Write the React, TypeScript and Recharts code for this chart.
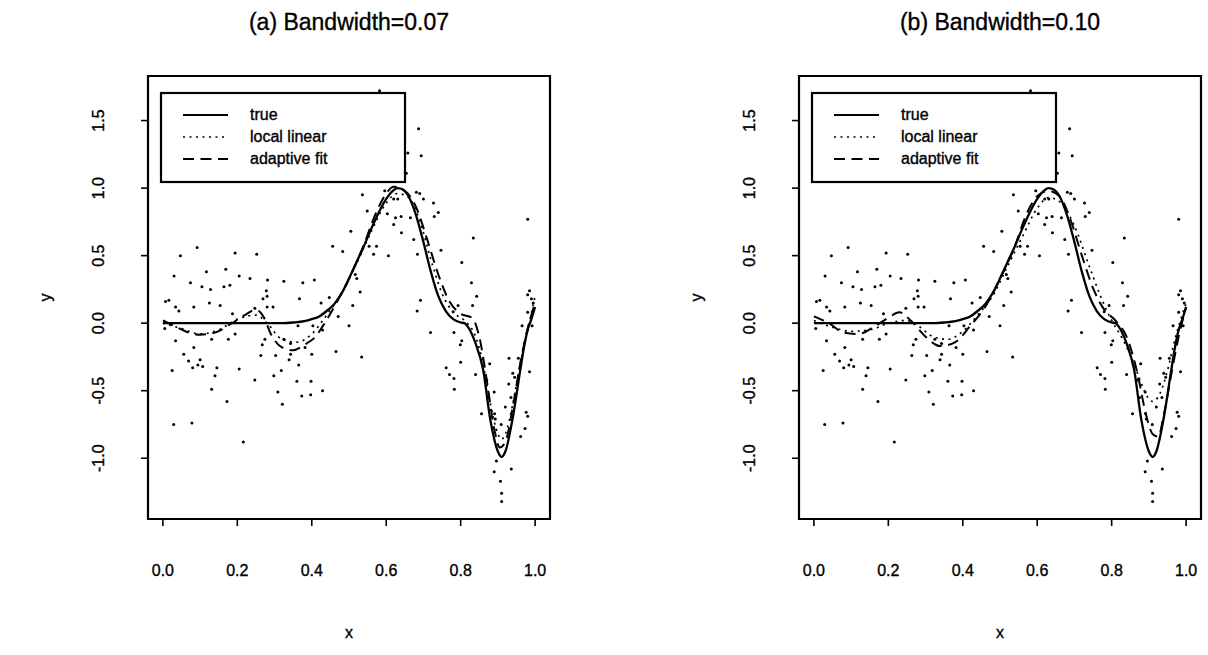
import React from 'react';
import { ComposedChart, Line, Scatter, XAxis, YAxis, ReferenceArea } from 'recharts';

// plot frame (both panels use the same data ranges)
const X_DOMAIN: [number, number] = [-0.04, 1.04];
const Y_DOMAIN: [number, number] = [-1.45, 1.83];
const xTicks = [0, 0.2, 0.4, 0.6, 0.8, 1.0];
const yTicks = [-1, -0.5, 0, 0.5, 1, 1.5];

// noisy observations (same sample in both panels)
const observations: [number, number][] = [
    [0.047, 0.5], [0.092, 0.56], [0.194, 0.52], [0.252, 0.51], [0.456, 0.57], [0.483, 0.53],
    [0.03, 0.35], [0.117, 0.38], [0.169, 0.4], [0.074, 0.3], [0.105, 0.27], [0.128, 0.25],
    [0.164, 0.27], [0.18, 0.28], [0.205, 0.35], [0.234, 0.33], [0.281, 0.32], [0.325, 0.31],
    [0.376, 0.3], [0.407, 0.32], [0.278, 0.24], [0.269, 0.18], [0.28, 0.2], [0.367, 0.18],
    [0.007, 0.16], [0.016, 0.17], [0.034, 0.12], [0.083, 0.12], [0.125, 0.15], [0.154, 0.13],
    [0.28, 0.12], [0.296, 0.12], [0.425, 0.15], [0.447, 0.19], [0.187, 0.07], [0.247, 0.11],
    [0.471, 0.05], [0.043, 0.09], [0.363, -0.02], [0.403, -0.02], [0.005, -0.04],
    [0.034, -0.13], [0.083, -0.18], [0.056, -0.23], [0.069, -0.28], [0.1, -0.27], [0.08, -0.33],
    [0.094, -0.31], [0.107, -0.32], [0.025, -0.35], [0.131, -0.12], [0.176, -0.12], [0.194, -0.08],
    [0.145, -0.33], [0.14, -0.39], [0.205, -0.34], [0.131, -0.49], [0.172, -0.58], [0.029, -0.75],
    [0.078, -0.74], [0.216, -0.88], [0.274, -0.12], [0.267, -0.16], [0.263, -0.24], [0.303, -0.24],
    [0.325, -0.12], [0.343, -0.15], [0.343, -0.23], [0.339, -0.27], [0.318, -0.35], [0.298, -0.39],
    [0.247, -0.42], [0.365, -0.31], [0.382, -0.18], [0.4, -0.23], [0.36, -0.43], [0.398, -0.43],
    [0.309, -0.51], [0.373, -0.54], [0.397, -0.53], [0.321, -0.6], [0.429, -0.5], [0.465, -0.21],
    [0.429, -0.05],
    [0.582, 1.72], [0.687, 1.44], [0.658, 1.26], [0.694, 1.24], [0.654, 1.11], [0.536, 0.95],
    [0.681, 0.97], [0.69, 0.96], [0.7, 0.92], [0.727, 0.89], [0.74, 0.82], [0.729, 0.79],
    [0.62, 0.92], [0.631, 0.92], [0.603, 0.81], [0.625, 0.78], [0.64, 0.79], [0.549, 0.83],
    [0.665, 0.78], [0.98, 0.77], [0.596, 0.98], [0.62, 0.73],
    [0.505, 0.68], [0.641, 0.67], [0.674, 0.62], [0.834, 0.63], [0.554, 0.57], [0.574, 0.57],
    [0.566, 0.51], [0.606, 0.5], [0.684, 0.51], [0.747, 0.54], [0.803, 0.45], [0.517, 0.36],
    [0.521, 0.33], [0.53, 0.23], [0.51, 0.13], [0.5, -0.02], [0.829, 0.3], [0.843, 0.2],
    [0.832, 0.13], [0.692, 0.17], [0.683, 0.09], [0.719, -0.07], [0.78, 0.085], [0.793, 0.13],
    [0.985, 0.24], [0.99, 0.18], [0.995, 0.15], [0.98, 0.21], [0.965, -0.02], [0.98, 0.08],
    [0.992, -0.02], [0.782, -0.07], [0.803, -0.13], [0.799, -0.16], [0.534, -0.25], [0.8, -0.29],
    [0.761, -0.33], [0.77, -0.38], [0.84, -0.38], [0.93, -0.26], [0.955, -0.26], [0.94, -0.37],
    [0.985, -0.36],
    [0.782, -0.41], [0.783, -0.49], [0.929, -0.45], [0.89, -0.51], [0.856, -0.67], [0.976, -0.66],
    [0.98, -0.69], [0.973, -0.78], [0.961, -0.84], [0.891, -0.67], [0.893, -0.71], [0.909, -0.75],
    [0.896, -1.02], [0.936, -1.08], [0.89, -1.1], [0.907, -1.17], [0.91, -1.26], [0.91, -1.32],
    [0.878, -0.3], [0.87, -0.42], [0.92, -0.62], [0.935, -0.55], [0.945, -0.4], [0.875, -0.55],
];

// true regression function
const trueCurve: [number, number][] = [
    [0, 0], [0.1, 0], [0.2, 0], [0.3, 0], [0.32, 0], [0.35, 0.005], [0.38, 0.015], [0.4, 0.03],
    [0.42, 0.05], [0.44, 0.09], [0.46, 0.14], [0.48, 0.22], [0.5, 0.33], [0.52, 0.45], [0.54, 0.57],
    [0.56, 0.7], [0.58, 0.82], [0.6, 0.92], [0.62, 0.985], [0.63, 1.0], [0.64, 0.995], [0.66, 0.94],
    [0.68, 0.8], [0.7, 0.6], [0.72, 0.38], [0.74, 0.2], [0.76, 0.09], [0.78, 0.03], [0.8, 0.005],
    [0.81, 0], [0.82, -0.03], [0.84, -0.15], [0.86, -0.34], [0.88, -0.72], [0.9, -0.95], [0.91, -0.99],
    [0.92, -0.95], [0.94, -0.7], [0.96, -0.35], [0.97, -0.18], [0.98, -0.05], [0.99, 0.03], [1.0, 0.12],
];

// (a) bandwidth 0.07
const localLinearA: [number, number][] = [
    [0, 0], [0.05, -0.04], [0.1, -0.08], [0.15, -0.05], [0.2, 0.03], [0.25, 0.06], [0.28, 0],
    [0.32, -0.12], [0.36, -0.14], [0.4, -0.08], [0.44, 0.06], [0.48, 0.22], [0.52, 0.44], [0.56, 0.68],
    [0.6, 0.89], [0.63, 0.96], [0.66, 0.93], [0.69, 0.76], [0.72, 0.47], [0.75, 0.22], [0.78, 0.08],
    [0.81, 0.02], [0.84, -0.1], [0.86, -0.3], [0.88, -0.6], [0.9, -0.82], [0.91, -0.86], [0.92, -0.82],
    [0.94, -0.6], [0.96, -0.3], [0.98, -0.05], [1.0, 0.2],
];
const adaptiveA: [number, number][] = [
    [0, 0.02], [0.03, -0.02], [0.06, -0.06], [0.1, -0.085], [0.14, -0.07], [0.18, -0.01], [0.22, 0.06],
    [0.25, 0.1], [0.27, 0.05], [0.29, -0.08], [0.32, -0.18], [0.35, -0.2], [0.38, -0.16], [0.41, -0.1],
    [0.43, -0.02], [0.46, 0.12], [0.5, 0.33], [0.54, 0.58], [0.57, 0.8], [0.6, 0.96], [0.62, 1.01],
    [0.65, 0.98], [0.68, 0.86], [0.71, 0.62], [0.74, 0.36], [0.77, 0.16], [0.8, 0.07], [0.83, 0.04],
    [0.85, -0.1], [0.87, -0.42], [0.89, -0.78], [0.905, -0.92], [0.92, -0.88], [0.94, -0.62],
    [0.96, -0.3], [0.98, -0.04], [1.0, 0.15],
];

// (b) bandwidth 0.10
const localLinearB: [number, number][] = [
    [0, 0.02], [0.05, -0.03], [0.1, -0.06], [0.15, -0.05], [0.2, 0], [0.25, 0.02], [0.28, -0.02],
    [0.32, -0.1], [0.36, -0.12], [0.4, -0.06], [0.44, 0.06], [0.48, 0.2], [0.52, 0.42], [0.56, 0.64],
    [0.6, 0.85], [0.63, 0.93], [0.66, 0.9], [0.7, 0.72], [0.74, 0.42], [0.77, 0.2], [0.8, 0.02],
    [0.83, -0.12], [0.86, -0.3], [0.88, -0.45], [0.9, -0.56], [0.91, -0.58], [0.93, -0.52],
    [0.95, -0.35], [0.97, -0.12], [1.0, 0.15],
];
const adaptiveB: [number, number][] = [
    [0, 0.05], [0.04, 0], [0.08, -0.07], [0.12, -0.08], [0.16, -0.03], [0.2, 0.04], [0.23, 0.08],
    [0.26, 0.02], [0.3, -0.1], [0.34, -0.17], [0.38, -0.14], [0.42, -0.02], [0.46, 0.12], [0.5, 0.33],
    [0.54, 0.57], [0.57, 0.8], [0.6, 0.94], [0.63, 0.98], [0.66, 0.94], [0.69, 0.76], [0.72, 0.5],
    [0.75, 0.26], [0.78, 0.1], [0.81, 0.02], [0.84, -0.1], [0.87, -0.38], [0.89, -0.65], [0.91, -0.82],
    [0.925, -0.84], [0.94, -0.68], [0.96, -0.38], [0.98, -0.1], [1.0, 0.12],
];

const legendItems = [
    { label: 'true', dash: undefined as string | undefined, width: 2.2 },
    { label: 'local linear', dash: '2 4.5', width: 1.7 },
    { label: 'adaptive fit', dash: '11 6.5', width: 2 },
];

const FONT = '"Liberation Sans", Arial, Helvetica, sans-serif';
const toPoints = (pairs: [number, number][]) => pairs.map(([x, y]) => ({ x, y }));

// chart geometry inside each 604x655 panel
const PLOT_LEFT = 148;
const PLOT_TOP = 76;
const PLOT_RIGHT = 550;
const PLOT_BOTTOM = 519;

// printed text looks heavier than plain regular weight
const inkText = { stroke: '#000', strokeWidth: 0.35 };

const XTick = (props: any) => {
    const { x, payload } = props;
    return (
        <text x={x} y={576} textAnchor="middle" fontFamily={FONT} fontSize={16} fill="#000" {...inkText}>
            {payload.value.toFixed(1)}
        </text>
    );
};

const YTick = (props: any) => {
    const { y, payload } = props;
    return (
        <g transform={`translate(98,${y}) rotate(-90)`}>
            <text x={0} y={0} dy="0.36em" textAnchor="middle" fontFamily={FONT} fontSize={16} fill="#000" {...inkText}>
                {payload.value.toFixed(1)}
            </text>
        </g>
    );
};

const Dot = (props: any) => <circle cx={props.cx} cy={props.cy} r={1.5} fill="#000" />;

interface PanelProps {
    title: string;
    left: number;
    localLinear: [number, number][];
    adaptive: [number, number][];
}

const Panel: React.FC<PanelProps> = ({ title, left, localLinear, adaptive }) => {
    const midX = (PLOT_LEFT + PLOT_RIGHT) / 2;
    const midY = (PLOT_TOP + PLOT_BOTTOM) / 2;
    return (
        <div style={{ position: 'absolute', left, top: 0, width: 604, height: 655 }}>
            <ComposedChart
                width={604}
                height={655}
                margin={{ top: PLOT_TOP, right: 604 - PLOT_RIGHT, bottom: 655 - PLOT_BOTTOM - 60, left: PLOT_LEFT - 60 }}
            >
                <XAxis
                    type="number"
                    dataKey="x"
                    domain={X_DOMAIN}
                    ticks={xTicks}
                    allowDataOverflow
                    height={60}
                    axisLine={false}
                    tickSize={7}
                    tickLine={{ stroke: '#000', strokeWidth: 1.6 }}
                    tick={<XTick />}
                    interval={0}
                />
                <YAxis
                    type="number"
                    dataKey="y"
                    domain={Y_DOMAIN}
                    ticks={yTicks}
                    allowDataOverflow
                    width={60}
                    axisLine={false}
                    tickSize={7}
                    tickLine={{ stroke: '#000', strokeWidth: 1.6 }}
                    tick={<YTick />}
                    interval={0}
                />
                <ReferenceArea
                    x1={X_DOMAIN[0]}
                    x2={X_DOMAIN[1]}
                    y1={Y_DOMAIN[0]}
                    y2={Y_DOMAIN[1]}
                    fill="none"
                    stroke="#000"
                    strokeWidth={2.2}
                />
                <Scatter data={toPoints(observations)} dataKey="y" shape={<Dot />} isAnimationActive={false} />
                <Line
                    data={toPoints(trueCurve)}
                    dataKey="y"
                    type="monotone"
                    stroke="#000"
                    strokeWidth={2.3}
                    dot={false}
                    activeDot={false}
                    isAnimationActive={false}
                />
                <Line
                    data={toPoints(localLinear)}
                    dataKey="y"
                    type="monotone"
                    stroke="#000"
                    strokeWidth={1.7}
                    strokeDasharray="2 4.5"
                    dot={false}
                    activeDot={false}
                    isAnimationActive={false}
                />
                <Line
                    data={toPoints(adaptive)}
                    dataKey="y"
                    type="monotone"
                    stroke="#000"
                    strokeWidth={2}
                    strokeDasharray="11 6.5"
                    dot={false}
                    activeDot={false}
                    isAnimationActive={false}
                />
            </ComposedChart>
            <svg
                width={604}
                height={655}
                style={{ position: 'absolute', left: 0, top: 0, pointerEvents: 'none' }}
                fontFamily={FONT}
            >
                <text x={midX} y={30} textAnchor="middle" fontSize={23} fill="#000" {...inkText}>
                    {title}
                </text>
                <text x={midX} y={638} textAnchor="middle" fontSize={16} fill="#000" {...inkText}>
                    x
                </text>
                <g transform={`translate(47,${midY}) rotate(-90)`}>
                    <text x={0} y={0} dy="0.25em" textAnchor="middle" fontSize={16} fill="#000" {...inkText}>
                        y
                    </text>
                </g>
                <rect x={161} y={93} width={244} height={89} fill="#fff" stroke="#000" strokeWidth={2.2} />
                {legendItems.map((item, i) => (
                    <g key={item.label}>
                        <line
                            x1={183}
                            x2={228}
                            y1={115 + i * 22}
                            y2={115 + i * 22}
                            stroke="#000"
                            strokeWidth={item.width}
                            strokeDasharray={item.dash}
                        />
                        <text x={250} y={120 + i * 22} fontSize={16} fill="#000" {...inkText}>
                            {item.label}
                        </text>
                    </g>
                ))}
            </svg>
        </div>
    );
};

export default function App() {
    return (
        <div style={{ position: 'absolute', left: 0, top: 0, width: 1208, height: 655, background: '#fff' }}>
            <Panel title="(a) Bandwidth=0.07" left={0} localLinear={localLinearA} adaptive={adaptiveA} />
            <Panel title="(b) Bandwidth=0.10" left={651} localLinear={localLinearB} adaptive={adaptiveB} />
        </div>
    );
}
